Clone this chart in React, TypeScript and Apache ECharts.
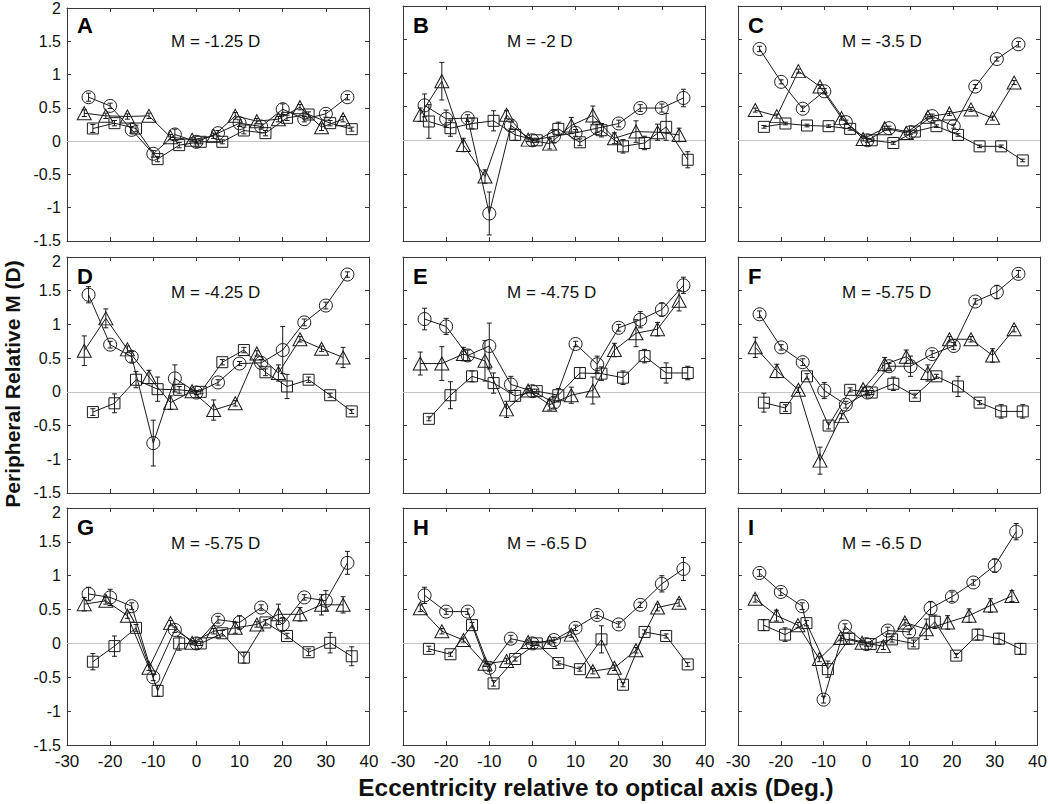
import React, { useEffect, useRef } from "react";
import * as echarts from "echarts";

// ---------- data ----------
const X_CIR = [-25, -20, -15, -10, -5, 0, 5, 10, 15, 20, 25, 30, 35];
const X_TRI = [-26, -21, -16, -11, -6, -1, 4, 9, 14, 19, 24, 29, 34];
const X_SQ = [-24, -19, -14, -9, -4, 1, 6, 11, 16, 21, 26, 31, 36];

const PANEL_LETTERS = ["A", "B", "C", "D", "E", "F", "G", "H", "I"];
const PANEL_LABELS = ["M = -1.25 D", "M = -2 D", "M = -3.5 D", "M = -4.25 D", "M = -4.75 D", "M = -5.75 D", "M = -5.75 D", "M = -6.5 D", "M = -6.5 D"];

const X_TICKS_MIN = -30;
const X_TICKS_MAX = 40;
const Y_TICKS_MIN = -1.5;
const Y_TICKS_MAX = 2;

// Panel A
const A_CIR = [0.66, 0.53, 0.17, -0.19, 0.1, -0.01, 0.12, 0.27, 0.22, 0.48, 0.33, 0.41, 0.66];
const A_CIR_E = [0.06, 0.04, 0.05, 0.05, 0.08, 0.03, 0.04, 0.05, 0.04, 0.08, 0.04, 0.05, 0.04];
const A_TRI = [0.42, 0.38, 0.37, 0.38, 0.06, 0.02, 0.08, 0.38, 0.3, 0.33, 0.51, 0.21, 0.33];
const A_TRI_E = [0.05, 0.04, 0.04, 0.04, 0.04, 0.03, 0.04, 0.05, 0.04, 0.04, 0.04, 0.05, 0.04];
const A_SQ = [0.19, 0.27, 0.19, -0.27, -0.06, -0.01, -0.01, 0.16, 0.12, 0.35, 0.4, 0.27, 0.18];
const A_SQ_E = [0.06, 0.04, 0.05, 0.04, 0.04, 0.03, 0.03, 0.05, 0.04, 0.04, 0.04, 0.04, 0.03];

// Panel B
const B_CIR = [0.52, 0.32, 0.33, -1.09, 0.22, 0.0, 0.06, 0.11, 0.18, 0.25, 0.48, 0.48, 0.63];
const B_CIR_E = [0.17, 0.13, 0.05, 0.32, 0.05, 0.03, 0.1, 0.05, 0.06, 0.05, 0.05, 0.06, 0.13];
const B_TRI = [0.38, 0.88, -0.07, -0.54, 0.38, 0.01, -0.05, 0.22, 0.37, 0.03, 0.13, 0.12, 0.08];
const B_TRI_E = [0.1, 0.28, 0.1, 0.1, 0.06, 0.03, 0.08, 0.12, 0.14, 0.08, 0.16, 0.12, 0.1];
const B_SQ = [0.28, 0.18, 0.25, 0.29, 0.08, 0.0, 0.17, -0.03, 0.15, -0.09, -0.04, 0.2, -0.29];
const B_SQ_E = [0.25, 0.12, 0.08, 0.15, 0.08, 0.03, 0.1, 0.05, 0.1, 0.1, 0.1, 0.2, 0.12];

// Panel C
const C_CIR = [1.36, 0.87, 0.47, 0.73, 0.27, 0.0, 0.18, 0.12, 0.36, 0.21, 0.8, 1.21, 1.43];
const C_CIR_E = [0.04, 0.03, 0.04, 0.04, 0.03, 0.03, 0.03, 0.03, 0.03, 0.03, 0.03, 0.03, 0.04];
const C_TRI = [0.45, 0.36, 1.03, 0.8, 0.33, 0.02, 0.18, 0.11, 0.35, 0.4, 0.46, 0.33, 0.86];
const C_TRI_E = [0.03, 0.03, 0.03, 0.03, 0.03, 0.03, 0.03, 0.03, 0.03, 0.03, 0.03, 0.03, 0.03];
const C_SQ = [0.2, 0.25, 0.22, 0.21, 0.17, 0.0, -0.04, 0.13, 0.21, 0.08, -0.09, -0.09, -0.3];
const C_SQ_E = [0.02, 0.02, 0.02, 0.02, 0.02, 0.02, 0.02, 0.02, 0.02, 0.02, 0.02, 0.02, 0.02];

// Panel D
const D_CIR = [1.44, 0.7, 0.52, -0.76, 0.2, -0.01, 0.14, 0.42, 0.43, 0.62, 1.03, 1.28, 1.74];
const D_CIR_E = [0.12, 0.05, 0.08, 0.34, 0.2, 0.03, 0.04, 0.03, 0.05, 0.35, 0.05, 0.05, 0.04];
const D_TRI = [0.61, 1.09, 0.63, 0.22, -0.16, 0.01, -0.27, -0.17, 0.57, 0.28, 0.78, 0.64, 0.51];
const D_TRI_E = [0.22, 0.14, 0.05, 0.1, 0.1, 0.03, 0.15, 0.04, 0.04, 0.12, 0.04, 0.04, 0.15];
const D_SQ = [-0.3, -0.17, 0.18, 0.04, 0.03, 0.0, 0.44, 0.62, 0.29, 0.08, 0.18, -0.05, -0.29];
const D_SQ_E = [0.05, 0.14, 0.12, 0.18, 0.05, 0.03, 0.04, 0.04, 0.05, 0.18, 0.04, 0.03, 0.03];

// Panel E
const E_CIR = [1.08, 0.97, 0.54, 0.68, 0.11, 0.01, -0.16, 0.71, 0.41, 0.95, 1.07, 1.22, 1.58];
const E_CIR_E = [0.16, 0.12, 0.08, 0.34, 0.12, 0.03, 0.08, 0.04, 0.12, 0.05, 0.12, 0.1, 0.12];
const E_TRI = [0.42, 0.42, 0.56, 0.46, -0.26, 0.02, -0.19, -0.05, 0.02, 0.62, 0.87, 0.93, 1.35];
const E_TRI_E = [0.17, 0.25, 0.1, 0.3, 0.12, 0.03, 0.08, 0.12, 0.2, 0.1, 0.2, 0.1, 0.15];
const E_SQ = [-0.4, -0.05, 0.23, 0.13, -0.06, 0.01, -0.05, 0.28, 0.27, 0.21, 0.53, 0.28, 0.28];
const E_SQ_E = [0.03, 0.2, 0.08, 0.15, 0.08, 0.03, 0.1, 0.08, 0.1, 0.1, 0.1, 0.15, 0.1];

// Panel F
const F_CIR = [1.15, 0.66, 0.44, 0.02, -0.19, -0.01, 0.38, 0.38, 0.56, 0.68, 1.34, 1.48, 1.75];
const F_CIR_E = [0.05, 0.04, 0.05, 0.12, 0.05, 0.03, 0.04, 0.15, 0.05, 0.05, 0.04, 0.1, 0.05];
const F_TRI = [0.66, 0.31, 0.03, -1.02, -0.36, 0.04, 0.41, 0.52, 0.28, 0.78, 0.78, 0.54, 0.93];
const F_TRI_E = [0.15, 0.1, 0.04, 0.2, 0.04, 0.03, 0.1, 0.1, 0.12, 0.04, 0.04, 0.1, 0.04];
const F_SQ = [-0.16, -0.24, 0.23, -0.5, 0.03, -0.01, 0.12, -0.06, 0.23, 0.08, -0.16, -0.29, -0.29];
const F_SQ_E = [0.14, 0.05, 0.04, 0.05, 0.03, 0.03, 0.1, 0.03, 0.03, 0.15, 0.03, 0.1, 0.1];

// Panel G
const G_CIR = [0.73, 0.68, 0.55, -0.5, 0.2, 0.0, 0.35, 0.31, 0.53, 0.28, 0.68, 0.63, 1.19];
const G_CIR_E = [0.1, 0.12, 0.05, 0.05, 0.04, 0.03, 0.05, 0.1, 0.04, 0.1, 0.04, 0.15, 0.17];
const G_TRI = [0.58, 0.63, 0.41, -0.36, 0.3, 0.01, 0.18, 0.23, 0.28, 0.43, 0.43, 0.57, 0.57];
const G_TRI_E = [0.1, 0.05, 0.04, 0.04, 0.04, 0.03, 0.04, 0.08, 0.04, 0.15, 0.1, 0.15, 0.12];
const G_SQ = [-0.27, -0.04, 0.23, -0.7, 0.0, 0.0, 0.15, -0.21, 0.31, 0.11, -0.13, 0.01, -0.19];
const G_SQ_E = [0.12, 0.15, 0.05, 0.08, 0.1, 0.03, 0.04, 0.08, 0.04, 0.04, 0.05, 0.15, 0.14];

// Panel H
const H_CIR = [0.71, 0.47, 0.47, -0.36, 0.07, 0.0, 0.05, 0.23, 0.42, 0.28, 0.57, 0.88, 1.1];
const H_CIR_E = [0.12, 0.04, 0.04, 0.05, 0.05, 0.03, 0.04, 0.04, 0.05, 0.04, 0.04, 0.12, 0.17];
const H_TRI = [0.52, 0.18, 0.05, -0.3, -0.26, 0.02, 0.02, 0.13, -0.41, -0.36, -0.1, 0.53, 0.6];
const H_TRI_E = [0.05, 0.04, 0.03, 0.04, 0.04, 0.03, 0.03, 0.04, 0.04, 0.04, 0.04, 0.05, 0.05];
const H_SQ = [-0.08, -0.16, 0.27, -0.59, -0.23, 0.0, -0.29, -0.38, 0.06, -0.61, 0.17, 0.11, -0.31];
const H_SQ_E = [0.04, 0.03, 0.04, 0.04, 0.03, 0.03, 0.03, 0.03, 0.2, 0.03, 0.03, 0.03, 0.03];

// Panel I
const I_CIR = [1.04, 0.76, 0.55, -0.83, 0.25, -0.01, 0.19, 0.17, 0.52, 0.69, 0.9, 1.15, 1.65];
const I_CIR_E = [0.05, 0.05, 0.05, 0.05, 0.04, 0.03, 0.05, 0.04, 0.1, 0.07, 0.04, 0.1, 0.12];
const I_TRI = [0.66, 0.41, 0.27, -0.23, 0.08, 0.01, -0.04, 0.31, 0.21, 0.31, 0.41, 0.56, 0.7];
const I_TRI_E = [0.05, 0.08, 0.04, 0.04, 0.04, 0.03, 0.05, 0.04, 0.15, 0.1, 0.1, 0.1, 0.08];
const I_SQ = [0.27, 0.13, 0.3, -0.38, 0.07, -0.01, 0.06, 0.0, 0.32, -0.18, 0.13, 0.07, -0.08];
const I_SQ_E = [0.08, 0.1, 0.04, 0.12, 0.08, 0.03, 0.04, 0.05, 0.1, 0.03, 0.08, 0.08, 0.08];

const PANELS = [
  { cir: A_CIR, cirE: A_CIR_E, tri: A_TRI, triE: A_TRI_E, sq: A_SQ, sqE: A_SQ_E },
  { cir: B_CIR, cirE: B_CIR_E, tri: B_TRI, triE: B_TRI_E, sq: B_SQ, sqE: B_SQ_E },
  { cir: C_CIR, cirE: C_CIR_E, tri: C_TRI, triE: C_TRI_E, sq: C_SQ, sqE: C_SQ_E },
  { cir: D_CIR, cirE: D_CIR_E, tri: D_TRI, triE: D_TRI_E, sq: D_SQ, sqE: D_SQ_E },
  { cir: E_CIR, cirE: E_CIR_E, tri: E_TRI, triE: E_TRI_E, sq: E_SQ, sqE: E_SQ_E },
  { cir: F_CIR, cirE: F_CIR_E, tri: F_TRI, triE: F_TRI_E, sq: F_SQ, sqE: F_SQ_E },
  { cir: G_CIR, cirE: G_CIR_E, tri: G_TRI, triE: G_TRI_E, sq: G_SQ, sqE: G_SQ_E },
  { cir: H_CIR, cirE: H_CIR_E, tri: H_TRI, triE: H_TRI_E, sq: H_SQ, sqE: H_SQ_E },
  { cir: I_CIR, cirE: I_CIR_E, tri: I_TRI, triE: I_TRI_E, sq: I_SQ, sqE: I_SQ_E },
];

// ---------- layout / style ----------
const FONT = "'Liberation Sans', Arial, Helvetica, sans-serif";
const LEFTS = [67, 403, 738];
const TOPS = [6, 257, 508];
const HEIGHTS = [235, 236, 237];
const W = 302;
const INK = "#1a1a1a";
const AXIS = "#3a3a3a";
const TICK_FS = 16;

function buildOption() {
  const grid: any[] = [];
  const xAxis: any[] = [];
  const yAxis: any[] = [];
  const series: any[] = [];
  const graphic: any[] = [];

  PANELS.forEach((p, i) => {
    const r = Math.floor(i / 3);
    const c = i % 3;
    grid.push({ left: LEFTS[c], top: TOPS[r], width: W, height: HEIGHTS[r], show: false, containLabel: false });

    const lineStyle = { color: AXIS, width: 1 };
    const tick = { show: true, inside: true, length: 4, lineStyle };
    const xBase = {
      gridIndex: i, type: "value", min: X_TICKS_MIN, max: X_TICKS_MAX, interval: 10,
      axisLine: { show: true, onZero: false, lineStyle }, axisTick: tick,
      splitLine: { show: false },
    };
    xAxis.push({ ...xBase, position: "bottom",
      axisLabel: { show: r === 2, fontSize: 17, color: "#111", fontFamily: FONT, margin: 8, showMinLabel: true, showMaxLabel: true } });
    xAxis.push({ ...xBase, position: "top", axisLabel: { show: false } });

    const yBase = {
      gridIndex: i, type: "value", min: Y_TICKS_MIN, max: Y_TICKS_MAX, interval: 0.5,
      axisLine: { show: true, onZero: false, lineStyle }, axisTick: tick,
      splitLine: { show: false },
    };
    const tokenStyle = { fontSize: TICK_FS, fontFamily: FONT, color: "#111" };
    yAxis.push({ ...yBase, position: "left",
      axisLabel: {
        show: c === 0, fontSize: TICK_FS, color: "#111", fontFamily: FONT, margin: 6,
        showMinLabel: true, showMaxLabel: true,
        formatter: (v: number) => {
          if (r > 0 && v === Y_TICKS_MAX) return `{mx|${v}}`;
          if (r < 2 && v === Y_TICKS_MIN) return `{mn|${v}}`;
          return String(v);
        },
        rich: {
          mx: { ...tokenStyle, padding: [8, 0, 0, 0] },
          mn: { ...tokenStyle, padding: [0, 0, 2, 0] },
        },
      } });
    yAxis.push({ ...yBase, position: "right", axisLabel: { show: false } });

    const xi = 2 * i;
    const yi = 2 * i;
    const markerStyle = { color: "rgba(255,255,255,0)", borderColor: INK, borderWidth: 1 };
    const sets = [
      { xs: X_CIR, ys: p.cir, es: p.cirE, symbol: "circle", size: 13 },
      { xs: X_TRI, ys: p.tri, es: p.triE, symbol: "triangle", size: [14, 13] },
      { xs: X_SQ, ys: p.sq, es: p.sqE, symbol: "rect", size: 11 },
    ];
    const errData: number[][] = [];
    sets.forEach((s, k) => {
      s.xs.forEach((x, j) => errData.push([x, s.ys[j], s.es[j]]));
      const ser: any = {
        type: "line", xAxisIndex: xi, yAxisIndex: yi,
        data: s.xs.map((x, j) => [x, s.ys[j]]),
        symbol: s.symbol, symbolSize: s.size, showSymbol: true,
        itemStyle: markerStyle, lineStyle: { color: INK, width: 1 },
        z: 3, silent: true, animation: false,
      };
      if (k === 0) {
        ser.markLine = {
          silent: true, symbol: ["none", "none"], label: { show: false },
          lineStyle: { color: "#c4c4c4", type: "solid", width: 1 },
          data: [{ yAxis: 0 }], animation: false, z: 1,
        };
      }
      series.push(ser);
    });
    series.push({
      type: "custom", xAxisIndex: xi, yAxisIndex: yi, data: errData, z: 2, silent: true, animation: false,
      renderItem: (_params: any, api: any) => {
        const x = api.value(0);
        const y = api.value(1);
        const e = api.value(2);
        const t = api.coord([x, y + e]);
        const b = api.coord([x, y - e]);
        const w = 2.5;
        const st = { stroke: INK, lineWidth: 1 };
        return {
          type: "group",
          children: [
            { type: "line", shape: { x1: t[0], y1: t[1], x2: b[0], y2: b[1] }, style: st },
            { type: "line", shape: { x1: t[0] - w, y1: t[1], x2: t[0] + w, y2: t[1] }, style: st },
            { type: "line", shape: { x1: b[0] - w, y1: b[1], x2: b[0] + w, y2: b[1] }, style: st },
          ],
        };
      },
    });

    graphic.push({
      type: "text", x: LEFTS[c] + 10, y: TOPS[r] + 19,
      style: { text: PANEL_LETTERS[i], fontSize: 22, fontWeight: "bold", fontFamily: FONT, fill: "#000", verticalAlign: "middle", align: "left" },
    });
    graphic.push({
      type: "text", x: LEFTS[c] + 104, y: TOPS[r] + 35,
      style: { text: PANEL_LABELS[i], fontSize: 17, fontFamily: FONT, fill: "#111", verticalAlign: "middle", align: "left" },
    });
  });

  graphic.push({
    type: "text", x: 12, y: 384, rotation: Math.PI / 2,
    style: { text: "Peripheral Relative M (D)", fontSize: 21, fontWeight: "bold", fontFamily: FONT, fill: "#111", align: "center", verticalAlign: "middle" },
  });
  graphic.push({
    type: "text", x: 596, y: 788, scaleX: 1.06,
    style: { text: "Eccentricity relative to optical axis (Deg.)", fontSize: 23, fontWeight: "bold", fontFamily: FONT, fill: "#111", align: "center", verticalAlign: "middle" },
  });

  return { animation: false, backgroundColor: "#fff", grid, xAxis, yAxis, series, graphic };
}

export default function App() {
  const ref = useRef<HTMLDivElement>(null);
  useEffect(() => {
    if (!ref.current) return;
    const chart = echarts.init(ref.current, undefined, { renderer: "svg" });
    chart.setOption(buildOption() as any);
    return () => chart.dispose();
  }, []);
  return <div ref={ref} style={{ position: "absolute", left: 0, top: 0, width: 1050, height: 804, background: "#fff" }} />;
}
